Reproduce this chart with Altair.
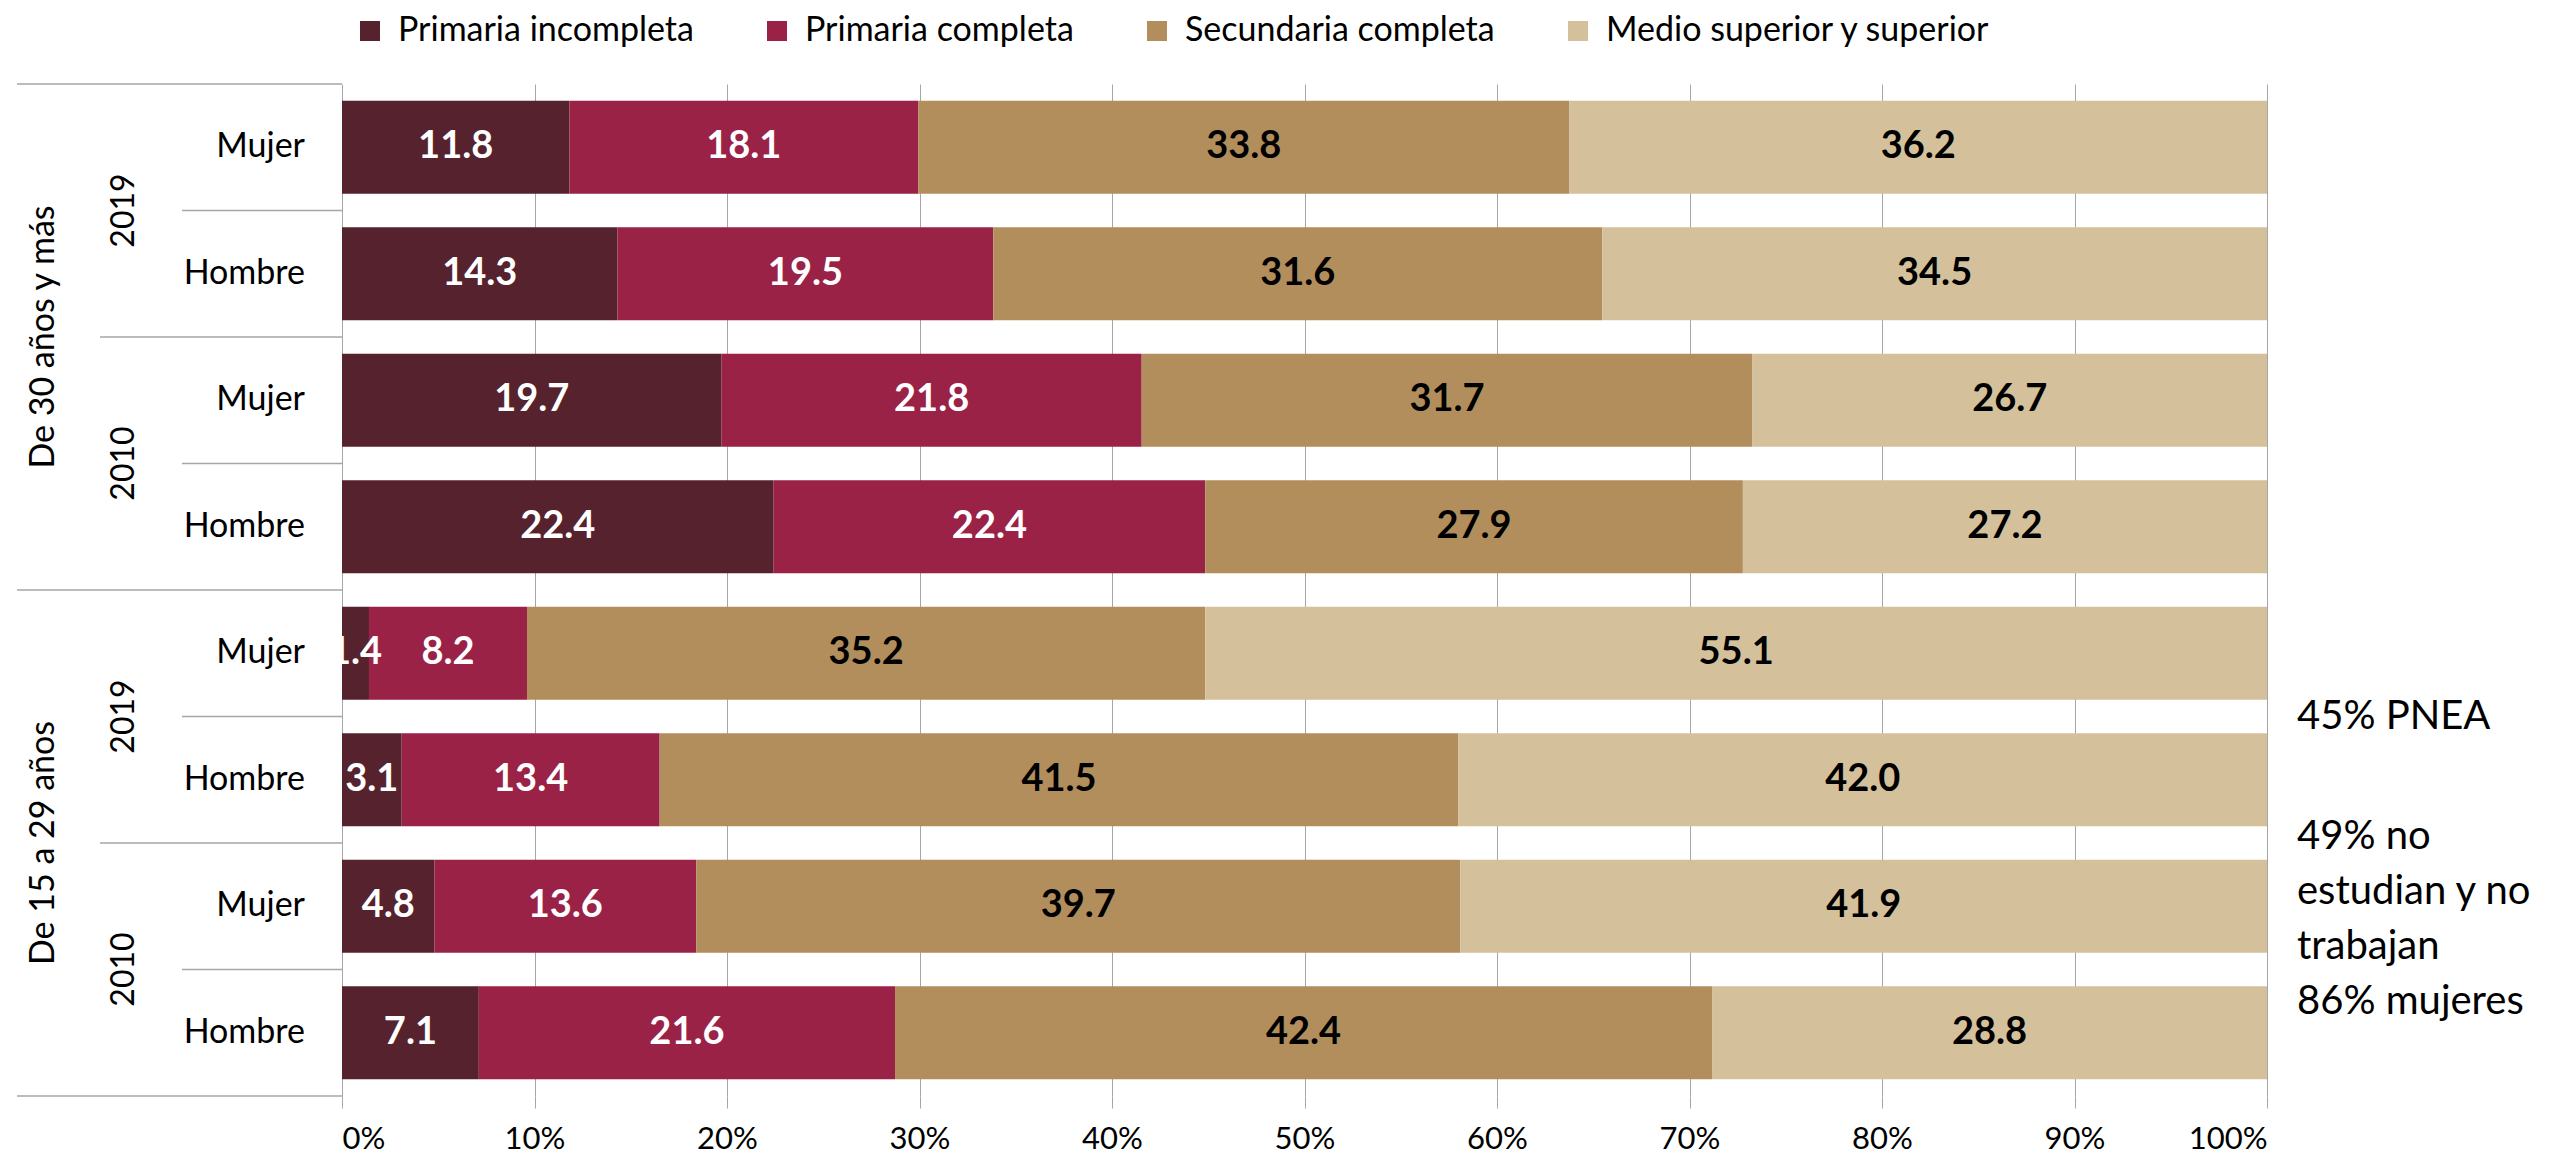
import altair as alt
import pandas as pd

# ---- data ----
age_groups = ["De 30 años y más"] * 4 + ["De 15 a 29 años"] * 4
years = ["2019", "2019", "2010", "2010", "2019", "2019", "2010", "2010"]
sexes = ["Mujer", "Hombre"] * 4
categories = ["Primaria incompleta", "Primaria completa",
              "Secundaria completa", "Medio superior y superior"]
primaria_incompleta = [11.8, 14.3, 19.7, 22.4, 1.4, 3.1, 4.8, 7.1]
primaria_completa = [18.1, 19.5, 21.8, 22.4, 8.2, 13.4, 13.6, 21.6]
secundaria_completa = [33.8, 31.6, 31.7, 27.9, 35.2, 41.5, 39.7, 42.4]
medio_superior = [36.2, 34.5, 26.7, 27.2, 55.1, 42.0, 41.9, 28.8]
x_ticks = [0.0, 0.1, 0.2, 0.3, 0.4, 0.5, 0.6, 0.7, 0.8, 0.9, 1.0]
note_1 = "45% PNEA"
note_2 = "49% no\nestudian y no\ntrabajan\n86% mujeres"

# ---- styles ----
colors = ["#56222D", "#9B2247", "#B38E5D", "#D4C19C"]
text_colors = ["white", "white", "black", "black"]
FONT = "Lato"
GRID = "#A6A6A6"

series = [primaria_incompleta, primaria_completa, secundaria_completa, medio_superior]
keys = [f"{a}|{y}|{s}" for a, y, s in zip(age_groups, years, sexes)]

rows = []
for i, k in enumerate(keys):
    total = sum(s[i] for s in series)
    cum = 0.0
    for c, s in enumerate(series):
        v = s[i]
        rows.append({"key": k, "cat": categories[c], "value": v,
                     "start": cum / total, "end": (cum + v) / total,
                     "mid": (cum + v / 2) / total, "tcolor": text_colors[c]})
        cum += v
df = pd.DataFrame(rows)

base_rows = pd.DataFrame({"key": keys, "age": age_groups, "year": years, "sex": sexes})

# year labels: at boundary between first and second row of each (age, year) group
year_df = base_rows.groupby(["age", "year"], sort=False).first().reset_index()
# age labels: at boundary between second and third row of each age group
age_df = base_rows.groupby("age", sort=False).nth(1).reset_index(drop=True)

# separators
levels = []
for i in range(len(keys)):
    if i == 0 or age_groups[i] != age_groups[i - 1]:
        levels.append(0)
    elif years[i] != years[i - 1]:
        levels.append(1)
    else:
        levels.append(2)
sep_df = pd.DataFrame({"key": keys, "level": levels})
bottom_df = pd.DataFrame({"key": [keys[-1]]})

yscale = alt.Scale(domain=keys, paddingInner=0, paddingOuter=0)


def Y(bp=None):
    if bp is None:
        return alt.Y("key:N", scale=yscale, sort=keys, axis=None)
    return alt.Y("key:N", scale=yscale, sort=keys, axis=None, bandPosition=bp)


bars = alt.Chart(df).mark_bar(height={"band": 0.735}).encode(
    x=alt.X("start:Q", title=None,
            scale=alt.Scale(domain=[0, 1], nice=False),
            axis=alt.Axis(values=x_ticks, format=".0%", grid=True, gridColor=GRID,
                          gridWidth=1, domain=False, ticks=True, tickColor=GRID,
                          tickSize=12, tickWidth=1, labelFont=FONT, labelFontSize=31,
                          labelColor="black", labelPadding=16)),
    x2="end:Q",
    y=Y(),
    color=alt.Color("cat:N", scale=alt.Scale(domain=categories, range=colors),
                    legend=alt.Legend(title=None, orient="none", legendX=11, legendY=-70,
                                      direction="horizontal", columns=4,
                                      symbolType="square", symbolSize=400,
                                      symbolStrokeWidth=0, labelFont=FONT,
                                      labelFontSize=34, labelColor="black",
                                      labelOffset=11, columnPadding=66, labelLimit=0)),
)

labels = alt.Chart(df).mark_text(font=FONT, fontWeight="bold", fontSize=38,
                                 baseline="middle", align="center").encode(
    x="mid:Q",
    y=Y(),
    text=alt.Text("value:Q", format=".1f"),
    color=alt.Color("tcolor:N", scale=None),
)

sex_text = alt.Chart(base_rows).mark_text(font=FONT, fontSize=34, align="right",
                                          baseline="middle", color="black").encode(
    x=alt.value(-37), y=Y(), text="sex:N")

year_text = alt.Chart(year_df).mark_text(font=FONT, fontSize=32, align="center",
                                         baseline="middle", angle=270, color="black").encode(
    x=alt.value(-218), y=Y(1), text="year:N")

age_text = alt.Chart(age_df).mark_text(font=FONT, fontSize=34, align="center",
                                       baseline="middle", angle=270, color="black").encode(
    x=alt.value(-298), y=Y(1), text="age:N")

sep_x = {0: -325, 1: -242, 2: -160}
seps = [
    alt.Chart(sep_df).transform_filter(alt.datum.level == lv)
    .mark_rule(color=GRID, strokeWidth=1.5)
    .encode(x=alt.value(x0), x2=alt.value(0), y=Y(0))
    for lv, x0 in sep_x.items()
]
bottom_sep = alt.Chart(bottom_df).mark_rule(color=GRID, strokeWidth=1.5).encode(
    x=alt.value(sep_x[0]), x2=alt.value(0), y=Y(1))

n1 = alt.Chart(pd.DataFrame({"t": [note_1]})).mark_text(
    font=FONT, fontSize=40, align="left", baseline="middle", color="black").encode(
    x=alt.value(1955), y=alt.value(633), text="t:N")
n2 = alt.Chart(pd.DataFrame({"t": [note_2]})).mark_text(
    font=FONT, fontSize=40, align="left", baseline="middle", color="black",
    lineBreak="\n", lineHeight=55).encode(
    x=alt.value(1955), y=alt.value(753), text="t:N")

chart = alt.layer(*seps, bottom_sep, bars, labels, sex_text, year_text, age_text, n1, n2).properties(
    width=1925, height=1012,
    autosize=alt.AutoSizeParams(type="none"),
    padding={"left": 334, "top": 76, "right": 280, "bottom": 60},
    background="white",
).configure_view(stroke=None)

chart.save("out.html", embed_options={"renderer": "svg", "actions": False})
